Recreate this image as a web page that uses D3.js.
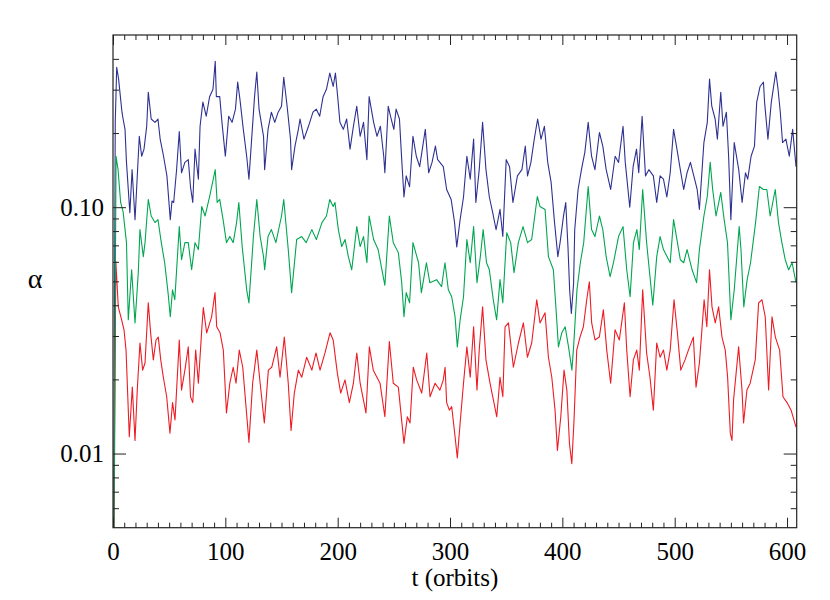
<!DOCTYPE html>
<html>
<head>
<meta charset="utf-8">
<script src="https://cdn.jsdelivr.net/npm/d3@7/dist/d3.min.js"></script>
<style>
  html, body { margin: 0; padding: 0; background: #fff; }
  svg { display: block; }
</style>
</head>
<body>
<svg id="chart" width="830" height="600"></svg>
<script>
// ---- data (t in orbits, alpha values) ----
const blueT = [0,2,3.3,5,6.5,8,9,10.7,12,15,17,19.6,21,23.4,25.5,27.6,30,31.4,34,37.4,40,42,45,48,51,52.5,54,56.6,59,61,64,67,69,71,73,76,77.5,80,83,86,89,91,92,95,97,100,103,106,109,111,113,116,119,121,123,126,128,130,134,135,138,141,144,147,150,152,155,158,159,162,165,166.5,170,174,178,181,184,187,190,193,196,198,200,202,205,208,211,214,217,220,223,226,228,232,235,238,241,242,245,247,250,252,255,257,259,261,264,267,270,273,278,281,284,287,289,291,294,297,301,304,306,309,312,315,318,321,323,326,329,332,335,338,341,344.5,347,350,353,356,360,364,367,369,372,375,378,381,384,387,390,393,396,398,401,403,405,406.5,408,410,411,414,417,420,423,426,429,433,436,439,443,447,450,454,456,460,463,466,468,471,474,477,481,484,487,490,493,496,499,502,505,508,511,514,517,520,522,526,529,531,533,536,538,541,543,546,548,550,553,557,560,563,565,568,571,573,576,579,580,583,586,590,592,594,596,599,602,605,608];
const blueA = [0.001,0.22,0.370,0.331,0.283,0.243,0.228,0.207,0.152,0.095,0.142,0.089,0.118,0.194,0.161,0.172,0.213,0.293,0.228,0.221,0.228,0.189,0.161,0.134,0.089,0.106,0.1045,0.142,0.203,0.138,0.152,0.156,0.121,0.1045,0.172,0.130,0.213,0.267,0.234,0.281,0.301,0.391,0.281,0.281,0.221,0.161,0.234,0.221,0.250,0.322,0.274,0.207,0.161,0.130,0.177,0.281,0.354,0.250,0.194,0.142,0.207,0.243,0.221,0.243,0.257,0.337,0.257,0.189,0.142,0.177,0.207,0.228,0.189,0.213,0.243,0.250,0.234,0.281,0.301,0.350,0.309,0.350,0.281,0.221,0.207,0.228,0.172,0.213,0.257,0.194,0.221,0.156,0.281,0.221,0.194,0.213,0.161,0.138,0.257,0.234,0.207,0.250,0.228,0.156,0.110,0.134,0.121,0.194,0.161,0.146,0.207,0.138,0.152,0.177,0.156,0.152,0.146,0.118,0.1075,0.087,0.069,0.089,0.110,0.161,0.130,0.189,0.1045,0.142,0.221,0.142,0.110,0.095,0.081,0.098,0.076,0.156,0.146,0.1045,0.134,0.142,0.177,0.134,0.152,0.189,0.228,0.189,0.213,0.152,0.126,0.087,0.063,0.072,0.092,0.1045,0.069,0.046,0.037,0.049,0.081,0.118,0.142,0.167,0.221,0.161,0.142,0.201,0.177,0.142,0.118,0.161,0.152,0.213,0.152,0.100,0.146,0.172,0.138,0.234,0.134,0.142,0.134,0.1045,0.134,0.130,0.110,0.138,0.207,0.172,0.142,0.118,0.138,0.152,0.134,0.118,0.098,0.183,0.221,0.331,0.257,0.228,0.189,0.293,0.213,0.243,0.161,0.089,0.183,0.142,0.1045,0.138,0.130,0.161,0.177,0.267,0.309,0.322,0.267,0.189,0.267,0.354,0.301,0.243,0.183,0.189,0.161,0.207,0.146];

const greenT = [0,2.7,4.5,6.8,9,12,13.6,16.6,19.6,22.5,24,27,28.5,31.4,34,37.4,40,43,46,49,51,53,55,59,61,64,67,70,73,76,79,82,86,91,92.7,95,98,101,104,107,110,112,115,119,121,125,128,131,134,135,138,141,145,150,152,156,159,163.5,168,172,177,181,186,190,193,196,197.6,200.6,203.6,206.6,209.5,212.5,217,220,223,226,228,232,236,242,246,249.5,254,257,259,261,264,267,272,274.5,279,282,288,292.5,295.5,298.5,301.5,304.5,306.5,309,312,315,318,321,324,327,329.5,332.5,335,338.5,341.5,344.5,347,350.5,354,357,360.8,365,369,372.7,377.7,380,384.6,387.6,392,395,396.5,399.5,402.5,405.5,408.5,410,413,416,419,423,426,429,433,436,439,442.5,445.5,450,454,457.3,460.3,463.3,466.3,468.5,471.5,475,480.5,484,487,490,496,499,502,505,508,511,515.5,519.5,522,526,529,531.6,533.8,536.8,541,544,547,550,553,557.4,559,561.5,564.5,567.5,572,575.4,579,582,585,589.5,592.4,595.4,598.4,601.4,604.5,608];
const greenA = [0.001,0.161,0.142,0.1045,0.0957,0.0718,0.0349,0.0557,0.0339,0.0542,0.0811,0.0630,0.0718,0.1075,0.0921,0.0866,0.0891,0.0718,0.0595,0.0450,0.0359,0.0462,0.0421,0.0834,0.0612,0.0718,0.0718,0.0557,0.0718,0.0673,0.1007,0.0921,0.1105,0.142,0.1045,0.1075,0.0891,0.0718,0.0760,0.0718,0.0866,0.1045,0.0692,0.0462,0.0409,0.0760,0.1075,0.0760,0.0630,0.0557,0.0760,0.0811,0.0718,0.0921,0.1075,0.0673,0.0450,0.0739,0.0760,0.0718,0.0811,0.0739,0.0866,0.0921,0.1075,0.1007,0.1045,0.0811,0.0692,0.0739,0.0630,0.0557,0.0834,0.0692,0.0760,0.0595,0.0921,0.0739,0.0673,0.0482,0.0921,0.0718,0.0654,0.0494,0.0359,0.0450,0.0409,0.0718,0.0595,0.0450,0.0595,0.0494,0.0508,0.0476,0.0595,0.0462,0.0433,0.0359,0.0271,0.0349,0.0433,0.0739,0.0595,0.0834,0.0494,0.0630,0.0811,0.0595,0.0557,0.0421,0.0349,0.0508,0.0409,0.0788,0.0718,0.0542,0.0718,0.0834,0.0718,0.0739,0.1105,0.1007,0.0979,0.0630,0.0557,0.0349,0.0271,0.0309,0.0327,0.0271,0.0218,0.0271,0.0462,0.0595,0.0718,0.1214,0.0811,0.0760,0.0921,0.0811,0.0630,0.0522,0.0595,0.0760,0.0834,0.0557,0.0433,0.0718,0.0811,0.0673,0.118,0.0718,0.0400,0.0630,0.0760,0.0673,0.0595,0.0891,0.0739,0.0612,0.0595,0.0673,0.0557,0.0494,0.0673,0.0921,0.1105,0.152,0.118,0.0921,0.1148,0.0891,0.0718,0.0349,0.0462,0.0834,0.0673,0.0394,0.0508,0.0595,0.0866,0.1214,0.118,0.118,0.0921,0.118,0.0866,0.0718,0.0612,0.0557,0.0595,0.0494];

const redT = [0,2.5,4.7,7.7,9.8,11.6,14.5,17.2,19.6,21.6,24,26.4,28.5,31.4,33.5,35.9,38.3,40.3,42.5,44.8,47.8,50.7,53,55.2,59,61,64,67,69,71,73.6,76,79,80.4,83.4,87.8,90.8,92.3,95.3,98.2,101,104,107,109.5,112.4,115.5,118.4,121,124.3,128,131,134.7,138.3,141.3,145.7,148.7,152.5,156,158.5,161.4,165,168,172.4,177,180.7,184.3,188.7,193.2,196,199.7,202.7,206.5,210.4,214,217,220,225.2,228.2,231.7,237.7,242,246,249.5,254,259,262,264.4,267.3,270.3,274.8,279.3,282.2,286.7,291,294,295.6,297,299.4,301.5,304.5,306.5,309,312,315,318,321,324,326,329,332,335.6,338.6,341.6,344.5,347,349,352,356.4,360.9,365.3,368.9,372.7,377.2,380.1,384.6,387.6,390.6,393.5,395.6,398.6,401.5,404,406.3,408.4,410.4,412.8,415.7,418.7,421.7,424,426.1,429.1,432.9,436.5,439.5,443,446.9,450.7,455.2,457.3,460.3,463.2,466.2,468.5,471.5,475,478,481,484,487,490,493,496,499.4,502.4,505.4,509.2,512.2,516.6,519,522,526.2,528.6,531,533.2,536.1,539.1,542.1,545,547.1,549.5,551,552.4,556.9,559.9,561.3,564.3,567.2,571.7,574.7,577.7,580.6,583.6,586.6,589.6,593.4,596.4,600,603.6,608];
const redA = [0.001,0.0604,0.0394,0.0349,0.0318,0.0263,0.0117,0.0186,0.0113,0.0181,0.0281,0.0218,0.0233,0.0409,0.0309,0.0240,0.0289,0.0297,0.0240,0.0204,0.0170,0.0121,0.0161,0.0137,0.0289,0.0181,0.0218,0.0271,0.0170,0.0161,0.0263,0.0193,0.0318,0.0391,0.0309,0.0359,0.0450,0.0327,0.0309,0.0263,0.0146,0.0193,0.0224,0.0193,0.0263,0.0224,0.0155,0.0111,0.0193,0.0263,0.0193,0.0133,0.0218,0.0224,0.0271,0.0204,0.0297,0.0193,0.0124,0.0176,0.0218,0.0204,0.0246,0.0218,0.0256,0.0218,0.0256,0.0309,0.0289,0.0212,0.0176,0.0199,0.0161,0.0193,0.0256,0.0193,0.0146,0.0271,0.0218,0.0193,0.0141,0.0285,0.0193,0.0186,0.0110,0.0141,0.0133,0.0224,0.0199,0.0176,0.0256,0.0170,0.0193,0.0181,0.0199,0.0224,0.0161,0.0150,0.0155,0.0117,0.0096,0.0133,0.0193,0.0271,0.0204,0.0327,0.0181,0.0263,0.0394,0.0240,0.0193,0.0165,0.0141,0.0204,0.0170,0.0327,0.0339,0.0224,0.0281,0.0339,0.0246,0.0281,0.0421,0.0339,0.0373,0.0246,0.0204,0.0150,0.0103,0.0141,0.0218,0.0181,0.0110,0.0091,0.0137,0.0263,0.0297,0.0327,0.0421,0.0498,0.0339,0.0289,0.0297,0.0383,0.0263,0.0193,0.0318,0.0289,0.0409,0.0263,0.0170,0.0240,0.0263,0.0218,0.0462,0.0256,0.0204,0.0150,0.0281,0.0246,0.0263,0.0218,0.0263,0.0421,0.0309,0.0218,0.0240,0.0263,0.0297,0.0186,0.0233,0.0421,0.0327,0.0557,0.0394,0.0339,0.0394,0.0297,0.0263,0.0204,0.0121,0.0113,0.0165,0.0271,0.0181,0.0133,0.0181,0.0193,0.0240,0.0409,0.0421,0.0359,0.0181,0.0359,0.0297,0.0263,0.0170,0.0161,0.0150,0.0128];

const xMajorTicks = [0, 100, 200, 300, 400, 500, 600];
const xMinorTicks = d3.range(10, 610, 10).filter(v => v % 100 !== 0);
const yMajorTicks = [0.01, 0.1];
const yMajorLabels = ["0.01", "0.10"];
const yMinorTicks = [0.006, 0.007, 0.008, 0.009, 0.02, 0.03, 0.04, 0.05, 0.06, 0.07, 0.08, 0.09, 0.2, 0.3, 0.4];
const xDomain = [0, 608.6];
const yDomain = [0.005, 0.5];
const xTitle = "t (orbits)";
const yTitle = "α";

const series = [
  { name: "blue", t: blueT, a: blueA, color: "#2e3192" },
  { name: "red", t: redT, a: redA, color: "#ed1c24" },
  { name: "green", t: greenT, a: greenA, color: "#00a651" }
];

const SERIF = "Liberation Serif";

// ---- layout ----
const W = 830, H = 600;
const margin = { left: 113, top: 35, right: 33.3, bottom: 72.3 };
const iw = W - margin.left - margin.right;
const ih = H - margin.top - margin.bottom;

const svg = d3.select("#chart");
const g = svg.append("g").attr("transform", `translate(${margin.left},${margin.top})`);

const x = d3.scaleLinear().domain(xDomain).range([0, iw]);
const y = d3.scaleLog().domain(yDomain).range([ih, 0]);

g.append("clipPath").attr("id", "clip")
  .append("rect").attr("x", 0).attr("y", 0).attr("width", iw).attr("height", ih);

const line = d3.line().x(d => x(d[0])).y(d => y(d[1]));

const lines = g.append("g").attr("clip-path", "url(#clip)");
series.forEach(s => {
  const pts = s.t.map((t, i) => [t, s.a[i]]);
  lines.append("path")
    .datum(pts)
    .attr("d", line)
    .attr("fill", "none")
    .attr("stroke", s.color)
    .attr("stroke-width", 1.1)
    .attr("stroke-linejoin", "round");
});

// ---- axes ----
const tickColor = "#222";
function styleAxis(sel, labels) {
  sel.select(".domain").remove();
  sel.selectAll(".tick line").attr("stroke", tickColor).attr("stroke-width", 1);
  sel.selectAll(".tick text")
    .style("font-family", SERIF)
    .style("font-size", "25px")
    .style("fill", "#000");
  if (!labels) sel.selectAll(".tick text").remove();
}

// bottom
g.append("g").attr("transform", `translate(0,${ih})`)
  .call(d3.axisBottom(x).tickValues(xMajorTicks).tickSize(-10).tickSizeOuter(0).tickPadding(15).tickFormat(d3.format("d")))
  .call(s => styleAxis(s, true));
g.append("g").attr("transform", `translate(0,${ih})`)
  .call(d3.axisBottom(x).tickValues(xMinorTicks).tickSize(-5).tickSizeOuter(0))
  .call(s => styleAxis(s, false));
// top
g.append("g")
  .call(d3.axisTop(x).tickValues(xMajorTicks).tickSize(-10).tickSizeOuter(0))
  .call(s => styleAxis(s, false));
g.append("g")
  .call(d3.axisTop(x).tickValues(xMinorTicks).tickSize(-5).tickSizeOuter(0))
  .call(s => styleAxis(s, false));
// left
g.append("g")
  .call(d3.axisLeft(y).tickValues(yMajorTicks).tickSize(-13).tickSizeOuter(0).tickPadding(9)
    .tickFormat((d, i) => yMajorLabels[i]))
  .call(s => styleAxis(s, true));
g.append("g")
  .call(d3.axisLeft(y).tickValues(yMinorTicks).tickSize(-6).tickSizeOuter(0))
  .call(s => styleAxis(s, false));
// right
g.append("g").attr("transform", `translate(${iw},0)`)
  .call(d3.axisRight(y).tickValues(yMajorTicks).tickSize(-13).tickSizeOuter(0))
  .call(s => styleAxis(s, false));
g.append("g").attr("transform", `translate(${iw},0)`)
  .call(d3.axisRight(y).tickValues(yMinorTicks).tickSize(-6).tickSizeOuter(0))
  .call(s => styleAxis(s, false));

// frame
g.append("rect").attr("x", 0).attr("y", 0).attr("width", iw).attr("height", ih)
  .attr("fill", "none").attr("stroke", tickColor).attr("stroke-width", 1.2);

// titles
svg.append("text")
  .attr("x", margin.left + iw / 2).attr("y", 586)
  .attr("text-anchor", "middle")
  .style("font-family", SERIF).style("font-size", "25px").style("fill", "#000")
  .text(xTitle);
svg.append("text")
  .attr("x", 35).attr("y", 288)
  .attr("text-anchor", "middle")
  .style("font-family", SERIF).style("font-size", "28px").style("fill", "#000")
  .text(yTitle);
</script>
</body>
</html>
